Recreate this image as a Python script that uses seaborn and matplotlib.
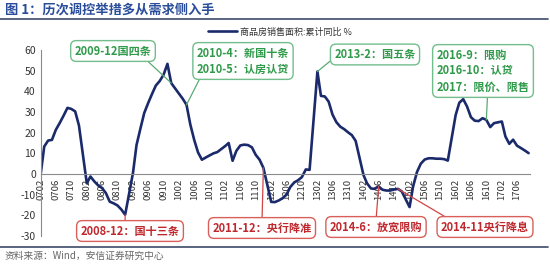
import matplotlib
matplotlib.use("Agg")
import matplotlib.pyplot as plt
import matplotlib.dates as mdates
from matplotlib.lines import Line2D
import pandas as pd
import seaborn as sns

# ---------------- data (monthly, January merged into Feb) ----------------
months = (
    [f"07{m:02d}" for m in range(2, 13)] +
    [f"08{m:02d}" for m in range(2, 13)] +
    [f"09{m:02d}" for m in range(2, 13)] +
    [f"10{m:02d}" for m in range(2, 13)] +
    [f"11{m:02d}" for m in range(2, 13)] +
    [f"12{m:02d}" for m in range(2, 13)] +
    [f"13{m:02d}" for m in range(2, 13)] +
    [f"14{m:02d}" for m in range(2, 13)] +
    [f"15{m:02d}" for m in range(2, 13)] +
    [f"16{m:02d}" for m in range(2, 13)] +
    [f"17{m:02d}" for m in range(2, 10)]
)
yoy_2007 = [0.0, 13.3, 16.2, 16.5, 21.4, 24.6, 28.2, 32.0, 31.5, 30.3, 23.5]
yoy_2008 = [-4.5, -1.2, -3.6, -5.5, -6.8, -9.2, -13.4, -14.2, -15.2, -17.2, -19.7]
yoy_2009 = [0.5, 14.0, 22.0, 29.5, 34.3, 38.6, 42.8, 45.0, 48.0, 53.3, 44.0]
yoy_2010 = [38.8, 36.5, 33.5, 24.0, 16.5, 10.5, 6.9, 8.0, 9.0, 10.0, 10.6]
yoy_2011 = [13.5, 15.0, 6.4, 11.2, 13.8, 14.2, 14.0, 12.9, 9.3, 6.9, 3.0]
yoy_2012 = [-13.5, -13.6, -12.8, -11.7, -10.0, -6.3, -4.1, -3.0, -1.5, 2.2, 2.0]
yoy_2013 = [49.6, 37.8, 37.5, 35.0, 28.7, 25.1, 22.9, 21.7, 20.2, 18.8, 16.0]
yoy_2014 = [-0.5, -4.5, -7.0, -7.2, -6.0, -7.6, -8.0, -8.0, -7.5, -7.2, -8.4]
yoy_2015 = [-16.0, -6.0, 1.0, 5.0, 7.0, 7.6, 7.6, 7.4, 7.4, 7.2, 6.5]
yoy_2016 = [28.5, 34.5, 36.2, 32.7, 27.5, 25.8, 25.6, 27.0, 26.2, 22.7, 24.6]
yoy_2017 = [25.4, 18.2, 14.6, 16.6, 13.7, 12.6, 11.4, 10.1]
sales_yoy = (yoy_2007 + yoy_2008 + yoy_2009 + yoy_2010 + yoy_2011 + yoy_2012 +
             yoy_2013 + yoy_2014 + yoy_2015 + yoy_2016 + yoy_2017)

series_name = "商品房销售面积:累计同比 %"
title = "图 1：历次调控举措多从需求侧入手"
source = "资料来源：Wind，安信证券研究中心"
y_ticks = [60, 50, 40, 30, 20, 10, 0, -10, -20, -30]

# annotations: (text, month of the point, kind)
notes = [
    ("2009-12国四条", "0912", "g"),
    ("2010-4：新国十条\n2010-5：认房认贷", "1004", "g"),
    ("2013-2：国五条", "1302", "g"),
    ("2016-9：限购\n2016-10：认贷\n2017：限价、限售", "1610", "g"),
    ("2008-12：国十三条", "0812", "r"),
    ("2011-12：央行降准", "1112", "r"),
    ("2014-6：放宽限购", "1406", "r"),
    ("2014-11央行降息", "1411", "r"),
]

# ---------------- styling ----------------
sns.set_style("white")
plt.rcParams["font.family"] = ["Noto Sans CJK SC", "DejaVu Sans"]
plt.rcParams["axes.unicode_minus"] = False

W, H = 550, 264
fig = plt.figure(figsize=(W / 100, H / 100), dpi=100)
ax = fig.add_axes([40.7 / W, 28 / H, (530 - 40.7) / W, (236 - 50) / H])

df = pd.DataFrame({
    "date": pd.to_datetime(["20" + m for m in months], format="%Y%m"),
    "val": sales_yoy,
})
sns.lineplot(data=df, x="date", y="val", ax=ax, color="#1b2a6b", lw=1.9,
             label=series_name)

ax.set_ylim(-30, 60)
ax.set_yticks(y_ticks)
ax.set_xlim(pd.Timestamp("2007-02-01"), pd.Timestamp("2017-09-12"))
ax.xaxis.set_major_locator(mdates.MonthLocator(bymonth=(2, 6, 10)))
ax.xaxis.set_major_formatter(mdates.DateFormatter("%y%m"))
ax.set_xlabel("")
ax.set_ylabel("")

for s in ("top", "right"):
    ax.spines[s].set_visible(False)
ax.spines["bottom"].set_position(("data", 0))
for s in ("left", "bottom"):
    ax.spines[s].set_color("#8a8a8a")
    ax.spines[s].set_linewidth(0.8)
ax.tick_params(axis="y", direction="in", length=3, width=0.7, color="#8a8a8a",
               labelsize=7.5, labelcolor="#333333", pad=3.5)
ax.tick_params(axis="x", direction="out", length=2.5, width=0.7, color="#8a8a8a",
               labelsize=6.8, labelcolor="#333333", pad=1, labelrotation=90)

leg = ax.legend(loc="center left", bbox_to_anchor=(208 / W, 1 - 32 / H),
                bbox_transform=fig.transFigure, frameon=False, fontsize=6.5,
                handlelength=3.2, handletextpad=0.35, borderpad=0, borderaxespad=0)
for t in leg.get_texts():
    t.set_color("#333333")

# ---------------- annotations ----------------
box_pos = [(113, 51), (243, 61), (375, 54.5), (483, 71),
           (130, 231), (262, 228), (376, 227), (485, 227)]
relpos = [(0.9, 0.0), (0.05, 0.0), (0.0, 0.25), (0.55, 0.0),
          (0.45, 1.0), (0.5, 1.0), (0.5, 1.0), (0.12, 1.0)]
lookup = dict(zip(months, zip(df["date"], sales_yoy)))
for (txt, m, kind), (bx, by), rp in zip(notes, box_pos, relpos):
    if kind == "g":
        tc, ec, ac = "#2f9a4a", "#72bd8c", "#5aab73"
    else:
        tc, ec, ac = "#c0282d", "#d9605a", "#d04545"
    d, v = lookup[m]
    ax.annotate(txt, xy=(d, v), xycoords="data",
                xytext=(bx, H - by), textcoords="figure pixels",
                ha="center", va="center", multialignment="left",
                fontsize=8, fontweight="bold", color=tc, linespacing=1.3,
                bbox=dict(boxstyle="round,pad=0.35,rounding_size=0.5",
                          fc="white", ec=ec, lw=1.0),
                arrowprops=dict(arrowstyle="-", color=ac, lw=0.9,
                                relpos=rp, shrinkA=0, shrinkB=0),
                annotation_clip=False, zorder=5)

# ---------------- title / frame lines / source ----------------
fig.text(5 / W, 1 - 10 / H, title, fontsize=9.5, fontweight="bold",
         color="#2a4d9b", va="center", ha="left")
fig.add_artist(Line2D([0, 548 / W], [1 - 19 / H, 1 - 19 / H],
                      transform=fig.transFigure, color="#3d4a6b", lw=1.2))
fig.add_artist(Line2D([0, 548 / W], [1 - 247 / H, 1 - 247 / H],
                      transform=fig.transFigure, color="#3d4a6b", lw=1.2))
fig.text(5 / W, 1 - 256 / H, source, fontsize=7, color="#666666",
         style="italic", va="center", ha="left")

fig.savefig("out.png", dpi=100)
